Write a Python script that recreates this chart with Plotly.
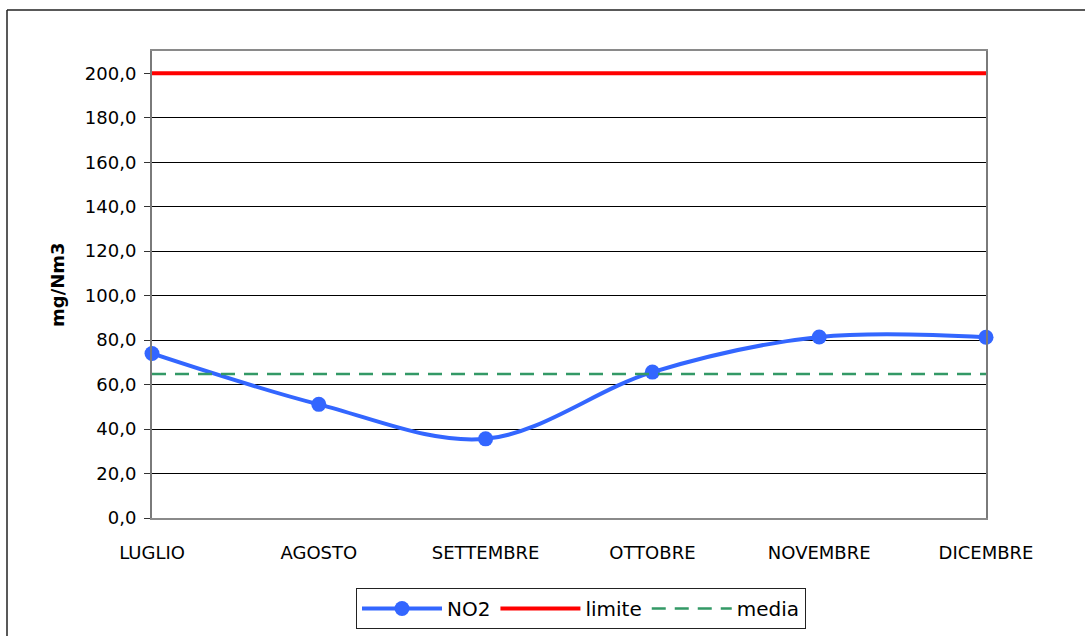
import plotly.graph_objects as go

months = ["LUGLIO", "AGOSTO", "SETTEMBRE", "OTTOBRE", "NOVEMBRE", "DICEMBRE"]
no2 = [74.0, 51.1, 35.6, 65.6, 81.4, 81.3]
limite = [200.0] * 6
media_val = round(sum(no2) / len(no2), 1)
media = [media_val] * 6
y_ticks = [0, 20, 40, 60, 80, 100, 120, 140, 160, 180, 200]
y_tick_text = ["0,0", "20,0", "40,0", "60,0", "80,0", "100,0", "120,0", "140,0", "160,0", "180,0", "200,0"]

xi = list(range(len(months)))
FONT = "DejaVu Sans"

fig = go.Figure()
fig.add_trace(go.Scatter(
    x=xi, y=no2, name="NO2", mode="lines+markers",
    line=dict(color="#3366ff", width=4, shape="spline", smoothing=1.0),
    marker=dict(color="#3366ff", size=15), cliponaxis=False))
fig.add_trace(go.Scatter(
    x=xi, y=limite, name="limite", mode="lines",
    line=dict(color="#ff0000", width=4), cliponaxis=False))
fig.add_trace(go.Scatter(
    x=xi, y=media, name="media", mode="lines",
    line=dict(color="#339966", width=2.5, dash="14px,9px")))

L, R, T, B = 152, 99, 51, 118
W, H = 1085, 636
pw, ph = W - L - R, H - T - B

def px_x(p):
    return (p - L) / pw

def px_y(p):
    return (H - B - p) / ph

fig.update_layout(
    width=W, height=H,
    margin=dict(l=L, r=R, t=T, b=B, pad=0, autoexpand=False),
    paper_bgcolor="white", plot_bgcolor="white",
    font=dict(family=FONT, color="black", size=17),
    showlegend=True,
    legend=dict(
        orientation="h", x=px_x(581), xanchor="center", y=px_y(588), yanchor="top",
        bordercolor="#222222", borderwidth=1, bgcolor="white",
        font=dict(family=FONT, size=20), itemwidth=80,
        tracegroupgap=0),
    xaxis=dict(
        range=[0, 5], tickmode="array", tickvals=xi, ticktext=months,
        showgrid=False, zeroline=False, showline=True, mirror=True,
        linecolor="#8a8a8a", linewidth=2, ticks="", automargin=False,
        tickfont=dict(family=FONT, size=18), ticklabelstandoff=17),
    yaxis=dict(
        range=[0, 210], tickmode="array", tickvals=y_ticks, ticktext=y_tick_text,
        showgrid=True, gridcolor="#000000", gridwidth=1, zeroline=False,
        showline=True, mirror=True, linecolor="#7a7a7a", linewidth=2,
        ticks="outside", ticklen=6, tickcolor="#333333", tickwidth=1,
        automargin=False, ticklabelstandoff=4,
        tickfont=dict(family=FONT, size=18)),
    annotations=[dict(
        text="<b>mg/Nm3</b>", textangle=-90, xref="paper", yref="paper",
        x=px_x(57), y=px_y(285), xanchor="center", yanchor="middle",
        showarrow=False, font=dict(family=FONT, size=18, color="black"))],
    shapes=[
        dict(type="line", xref="paper", yref="paper", x0=px_x(7), x1=px_x(1090),
             y0=px_y(10), y1=px_y(10), line=dict(color="#222222", width=1.5)),
        dict(type="line", xref="paper", yref="paper", x0=px_x(7), x1=px_x(7),
             y0=px_y(10), y1=px_y(640), line=dict(color="#222222", width=1.5)),
    ],
)

fig.write_html("out.html")
